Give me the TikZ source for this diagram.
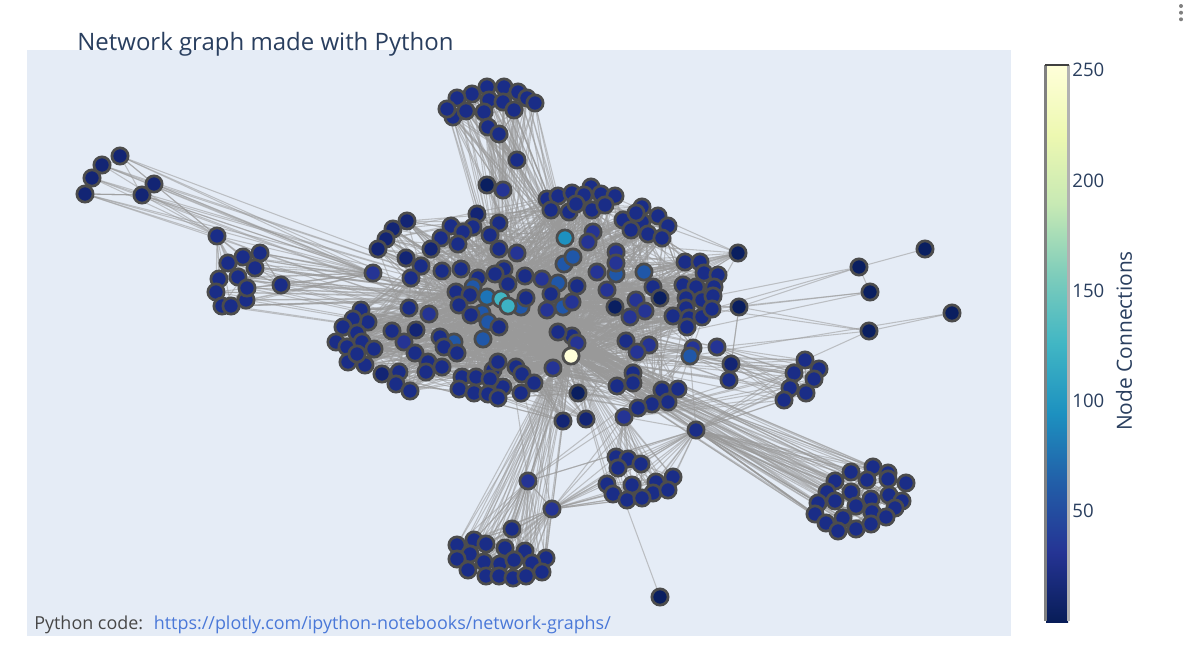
\documentclass[tikz,border=0pt]{standalone}
\usepackage{fontspec}
\setmainfont{Open Sans}
\usetikzlibrary{backgrounds}

\definecolor{plotbg}{HTML}{E5ECF6}
\definecolor{inktext}{HTML}{2A3F5F}
\definecolor{linktext}{HTML}{4A78D8}
\definecolor{netD}{HTML}{0A1F60}
\definecolor{netd}{HTML}{132574}
\definecolor{netm}{HTML}{1A2D87}
\definecolor{netb}{HTML}{253494}
\definecolor{netB}{HTML}{2057A8}
\definecolor{netS}{HTML}{1D74B8}
\definecolor{scaleA}{HTML}{081D58}
\definecolor{scaleB}{HTML}{253494}
\definecolor{scaleC}{HTML}{225EA8}
\definecolor{scaleD}{HTML}{1D91C0}
\definecolor{scaleE}{HTML}{41B6C4}
\definecolor{scaleF}{HTML}{7FCDBB}
\definecolor{scaleG}{HTML}{C7E9B4}
\definecolor{scaleH}{HTML}{EDF8B1}
\definecolor{scaleI}{HTML}{FFFFD9}

\tikzset{
  netnode/.style={circle, draw=black!70, line width=0.055cm, inner sep=0pt, minimum size=0.325cm},
  netedge/.style={draw=black!40, line width=0.6pt, opacity=0.55},
  ticklabel/.style={text=inktext, font=\fontsize{10.6}{12}\selectfont, anchor=west, inner sep=0pt}
}

% one group of nodes: name, list of x/y/tint
\newcommand{\netgroup}[2]{%
  \foreach \px/\py/\tint [count=\i] in {#2} {
    \node[netnode, fill=net\tint] (#1\i) at (\px,\py) {};
    \expandafter\xdef\csname count#1\endcsname{\i}
  }}
% every node of a group to each of the listed hubs
\newcommand{\netfan}[2]{%
  \foreach \i in {1,...,\csname count#1\endcsname}
    \foreach \hub in {#2}
      \draw[netedge] (#1\i) -- (\hub);}
% links inside a group, picked by stepping through it
\newcommand{\netmix}[2]{%
  \foreach \i in {1,...,\csname count#1\endcsname}
    \foreach \k in {#2} {
      \pgfmathtruncatemacro\j{mod(\i*\k+3,\csname count#1\endcsname)+1}
      \draw[netedge] (#1\i) -- (#1\j);
    }}

\begin{document}
\begin{tikzpicture}[x=0.02cm, y=-0.02cm]
\useasboundingbox (0,0) rectangle (1190,660);

% west side
\netgroup{corner}{120/156/d, 102/165/d, 92/178/d, 85/194/d, 154/184/d, 142/195/d}
\netgroup{west}{260/253/m, 243/257/m, 228/263/m, 255/268/m, 238/277/m, 219/279/m, 281/285/m, 246/300/m, 247/288/m, 216/292/m, 222/306/m, 231/306/m}
\node[netnode, fill=netm] (gatecorner) at (217,236) {};
\node[netnode, fill=netb] (gatewest) at (373,273) {};

% top
\netgroup{top}{487/87/m, 504/87/m, 518/92/m, 527/98/m, 472/94/m, 457/98/m, 489/100/m, 503/102/m, 535/103/m, 453/117/m, 447/109/m, 466/111/m, 484/112/m, 514/110/m, 488/127/m, 499/134/m}
\node[netnode, fill=netm] (topa) at (517,160) {};
\node[netnode, fill=netD] (topb) at (487,185) {};
\node[netnode, fill=netb] (topc) at (503,190) {};

% centre
\netgroup{core}{547/199/m, 558/196/m, 572/193/m, 591/187/m, 584/195/m, 601/194/m, 615/196/m, 551/210/m, 569/212/m, 576/204/m, 592/210/m, 605/205/m, 623/220/m, 593/232/b, 588/242/b, 642/207/m, 642/222/m, 636/213/m, 658/216/m, 668/226/m, 631/230/m, 648/234/m, 662/238/m,
  407/221/d, 393/229/d, 386/239/d, 378/249/d, 477/214/d, 473/227/m, 451/226/m, 463/232/m, 441/238/m, 458/244/m, 431/249/d, 499/223/m, 490/235/m, 499/249/m, 517/253/b, 406/258/d, 421/266/m, 411/278/m, 442/271/m, 461/269/m, 504/269/m, 495/274/m, 478/278/m, 508/284/m, 525/276/m, 542/279/b,
  564/264/B, 616/274/B, 616/252/b, 616/263/b, 597/272/b, 558/283/B, 577/286/m, 607/290/b, 473/287/B, 456/292/m, 470/295/m, 551/294/m, 563/307/B, 572/302/b, 547/310/b, 615/307/D, 630/317/b, 459/305/m, 482/313/B, 471/315/m, 488/322/B, 499/327/m, 483/339/B, 409/308/m, 429/314/b,
  361/310/m, 368/322/m, 353/319/m, 343/327/m, 357/333/m, 336/342/m, 347/347/m, 362/342/m, 374/349/m, 348/362/m, 365/365/m, 357/354/m,
  392/331/m, 416/330/d, 404/342/b, 454/342/B, 440/337/m, 444/347/m, 457/353/m, 415/353/m, 428/362/m, 442/367/m, 426/372/m, 382/374/d, 399/372/m, 396/384/m, 410/391/m,
  493/370/m, 498/362/m, 516/367/m, 522/374/m, 534/383/m, 503/387/m, 462/377/m, 476/377/m, 490/379/m, 459/389/m, 474/393/m, 488/394/m, 498/398/m, 521/393/m, 572/336/m, 577/343/b, 578/393/D, 617/386/m, 633/373/m, 633/383/m, 563/421/d, 586/419/d, 626/341/m, 649/345/b, 637/352/b, 653/287/m, 660/298/D, 636/300/b, 645/311/b, 644/272/B,
  685/262/m, 700/262/m, 704/273/m, 718/275/m, 738/253/D, 683/285/m, 696/287/m, 714/287/m, 686/298/m, 702/300/m, 686/308/m, 673/316/m, 689/318/m, 702/317/m, 687/327/m, 693/348/b, 662/390/m, 678/389/m, 668/402/m, 652/404/m, 638/408/m}
\node[netnode, fill=netB] (spokesky) at (573,257) {};
\node[netnode, fill=netm] (spokeright) at (713,296) {};
\node[netnode, fill=netm] (spokeedge) at (712,309) {};
\node[netnode, fill=netb] (spokelow) at (553,368) {};
\node[netnode, fill=netm] (spokecut) at (558,332) {};
\node[netnode, fill=netb] (eastb) at (717,347) {};
\node[netnode, fill=netd] (eastc) at (731,364) {};
\node[netnode, fill=netm] (eastd) at (729,380) {};
\node[netnode, fill=netD] (rimd) at (739,307) {};
\node[netnode, fill=netS] (blue) at (487,297) {};
\node[netnode, fill=netB] (bluea) at (521,307) {};
\node[netnode, fill=netm] (blueb) at (526,298) {};
\node[netnode, fill=scaleD] (sky) at (565,238) {};
\node[netnode, fill=scaleE] (teala) at (501,299) {};
\node[netnode, fill=scaleE!90!scaleD] (tealb) at (508,306) {};
\node[netnode, fill=netB] (hubeast) at (690,356) {};
\node[netnode, fill=scaleI] (cream) at (571,356) {};

% south
\node[netnode, fill=netb] (gatemid) at (624,417) {};
\node[netnode, fill=netm] (gateeast) at (696,430) {};
\node[netnode, fill=netb] (gatelowb) at (528,481) {};
\node[netnode, fill=netb] (gatelow) at (552,509) {};
\node[netnode, fill=netm] (gatelowc) at (512,529) {};
\netgroup{lower}{457/545/m, 474/540/m, 486/544/m, 505/548/m, 525/551/m, 546/558/m, 470/554/m, 457/559/m, 484/562/m, 500/564/m, 514/560/m, 532/563/m, 468/570/m, 486/576/m, 499/576/m, 513/578/m, 526/576/m, 542/572/m}
\netgroup{mid}{616/457/m, 628/459/m, 618/468/m, 641/464/m, 607/484/m, 632/485/m, 656/482/m, 673/477/m, 613/494/m, 653/493/m, 668/490/m, 627/500/m, 642/498/m}
\node[netnode, fill=netD] (south) at (660,597) {};

% east
\netgroup{east}{805/360/m, 819/369/m, 794/373/m, 814/379/m, 790/388/m, 806/393/m, 784/400/m}
\netgroup{far}{873/467/m, 851/472/m, 888/473/m, 835/481/m, 867/480/m, 888/479/m, 906/483/m, 827/492/m, 851/492/m, 818/503/m, 835/501/m, 871/499/m, 889/495/m, 902/501/m, 856/506/m, 895/508/m, 815/514/m, 872/512/m, 886/517/m, 843/518/m, 826/523/m, 838/531/m, 856/529/m, 871/524/m}
\node[netnode, fill=netD] (rima) at (925,249) {};
\node[netnode, fill=netD] (rimb) at (859,267) {};
\node[netnode, fill=netD] (rimc) at (870,292) {};
\node[netnode, fill=netD] (rime) at (869,331) {};
\node[netnode, fill=netD] (rimf) at (952,313) {};

\begin{scope}[on background layer]
\fill[white] (0,0) rectangle (1190,660);
\fill[plotbg] (27,50) rectangle (1011,636);

\netfan{corner}{gatewest, gatecorner, cream, teala}
\netmix{corner}{2,3}
\netfan{west}{gatewest, gatecorner, cream, teala, blue}
\netmix{west}{3,5}
\netfan{top}{cream, sky, teala, tealb, topc, topa, spokesky}
\netmix{top}{3,5}
\draw[netedge] (topa) -- (cream);
\draw[netedge] (topb) -- (cream);
\draw[netedge] (topc) -- (cream);
\draw[netedge] (gatewest) -- (cream);
\draw[netedge] (gatewest) -- (gatecorner);
\netfan{core}{cream, teala, tealb, blue, spokecut, spokelow}
\netmix{core}{7,13,29,47,71}
\netfan{lower}{gatelow, gatelowb, gatelowc, cream, spokelow}
\netmix{lower}{3,5}
\netfan{mid}{gatelow, gateeast, cream, gatemid}
\netmix{mid}{3,5}
\netfan{east}{cream, hubeast, eastb, eastc, gateeast, gatemid}
\netmix{east}{2,3}
\netfan{far}{cream, gateeast, spokecut}
\netmix{far}{5,7,11}
\foreach \hub in {cream, gateeast, gatelow, gatelowb, hubeast, teala} {
  \draw[netedge] (gatemid) -- (\hub);
  \draw[netedge] (gatelow) -- (\hub);
  \draw[netedge] (gateeast) -- (\hub);
  \draw[netedge] (gatelowb) -- (\hub);
}
\foreach \spoke in {spokesky, spokeright, spokeedge, spokelow, spokecut, eastb, eastc, eastd, rimd, bluea, blueb, hubeast} {
  \draw[netedge] (\spoke) -- (cream);
  \draw[netedge] (\spoke) -- (teala);
  \draw[netedge] (\spoke) -- (tealb);
}
\draw[netedge] (south) -- (cream);
\draw[netedge] (rima) -- (rimb);
\draw[netedge] (rimb) -- (rimc);
\draw[netedge] (rimb) -- (spokeright);
\draw[netedge] (rimb) -- (rimd);
\draw[netedge] (rimb) -- (spokeedge);
\draw[netedge] (rimc) -- (rimd);
\draw[netedge] (rimc) -- (spokeedge);
\draw[netedge] (rimc) -- (cream);
\draw[netedge] (rime) -- (rimd);
\draw[netedge] (rime) -- (spokeedge);
\draw[netedge] (rime) -- (eastb);
\draw[netedge] (rime) -- (east1);
\draw[netedge] (rimf) -- (hubeast);
\draw[netedge] (rimf) -- (rime);
\draw[netedge] (rimd) -- (eastc);
\draw[netedge] (rimd) -- (eastd);
\end{scope}

% colour bar
\foreach \low/\high [count=\s from 0] in {scaleI/scaleH, scaleH/scaleG, scaleG/scaleF, scaleF/scaleE, scaleE/scaleD, scaleD/scaleC, scaleC/scaleB, scaleB/scaleA}
  \shade[top color=\low, bottom color=\high] (1046,{65+\s*69.6}) rectangle (1068,{65+(\s+1)*69.6+0.3});
\draw[black!50, line width=0.05cm] (1045.5,64.5) -- (1045.5,621);
\draw[black!30, line width=0.05cm] (1068.5,64.5) -- (1068.5,621);
\draw[black!75, line width=0.04cm] (1045,64.5) -- (1069,64.5);

\foreach \val/\ypos in {250/70, 200/181, 150/291, 100/401, 50/511}
  \node[ticklabel] (tick\val) at (1072,\ypos) {\val};
\node[rotate=90, text=inktext, font=\fontsize{11.9}{14}\selectfont, inner sep=0pt] (scalename) at (1124,341) {Node Connections};

\node[text=inktext, font=\fontsize{13.65}{16}\selectfont, anchor=base west, inner sep=0pt] (graphtitle) at (77,50) {Network graph made with Python};
\node[font=\fontsize{10.2}{12}\selectfont, anchor=base west, inner sep=0pt] (pycode) at (34,629) {\textcolor{black!72}{Python code:}\hspace{0.6em}\textcolor{linktext}{https://plotly.com/ipython-notebooks/network-graphs/}};

\foreach \ypos in {6,12.7,19.3}
  \fill[black!50] (1181,\ypos) circle (2);
\end{tikzpicture}
\end{document}
